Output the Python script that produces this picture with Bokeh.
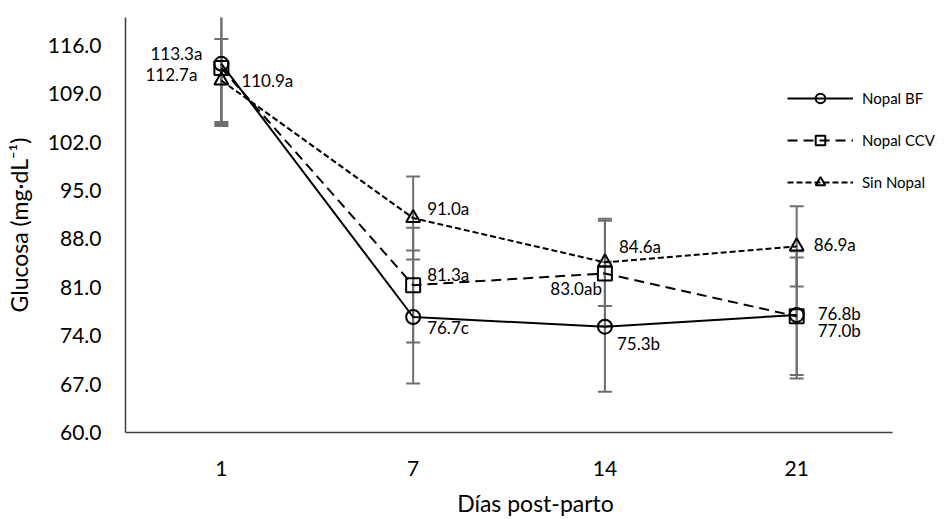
from bokeh.plotting import figure
from bokeh.models import (ColumnDataSource, Range1d, Whisker, TeeHead,
                          Legend, LegendItem, FixedTicker)
from bokeh.core.properties import value
from bokeh.embed import file_html
from bokeh.resources import INLINE

# ---- data ----
days = ["1", "7", "14", "21"]
bf = [113.3, 76.7, 75.3, 77.0]
ccv = [112.7, 81.3, 83.0, 76.8]
sin = [110.9, 91.0, 84.6, 86.9]
bf_err = [9.0, 9.6, 9.4, 9.2]
ccv_err = [8.1, 8.3, 7.6, 8.5]
sin_err = [6.0, 6.0, 6.3, 5.8]
bf_lab = ["113.3a", "76.7c", "75.3b", "77.0b"]
ccv_lab = ["112.7a", "81.3a", "83.0ab", "76.8b"]
sin_lab = ["110.9a", "91.0a", "84.6a", "86.9a"]
y_ticks = [60, 67, 74, 81, 88, 95, 102, 109, 116]
series_names = ["Nopal BF", "Nopal CCV", "Sin Nopal"]

# label offsets (screen px) per point
bf_dx = [-19, 14, 12, 21]
bf_dy = [-10, 11, 17, 16]
bf_align = ["right", "left", "left", "left"]
ccv_dx = [-24, 14, -3, 21]
ccv_dy = [7, -11, 15, -3]
ccv_align = ["right", "left", "right", "left"]
sin_dx = [20, 14, 14, 17]
sin_dy = [0, -10, -16, -2]
sin_align = ["left", "left", "left", "left"]

FONT = "Lato"
ERR = "#6e6e6e"

# category slots: day i sits in the middle of slot i
xpos = [i + 0.5 for i in range(len(days))]
n_cat = len(days)

p = figure(x_range=Range1d(0, 4.276), y_range=Range1d(60, 120),
           width=945, height=519, output_backend="svg", toolbar_location=None,
           min_border_left=125, min_border_right=0, min_border_top=17, min_border_bottom=82)
p.outline_line_color = None
p.xgrid.grid_line_color = None
p.ygrid.grid_line_color = None
p.background_fill_color = "white"
p.border_fill_color = "white"

def src(vals, err, labs, dx, dy, al):
    return ColumnDataSource(dict(x=xpos, y=vals,
                                 lo=[v - e for v, e in zip(vals, err)],
                                 hi=[v + e for v, e in zip(vals, err)],
                                 lab=labs, dx=dx, dy=dy, al=al))

sources = [src(bf, bf_err, bf_lab, bf_dx, bf_dy, bf_align),
           src(ccv, ccv_err, ccv_lab, ccv_dx, ccv_dy, ccv_align),
           src(sin, sin_err, sin_lab, sin_dx, sin_dy, sin_align)]

# error bars
for s in sources:
    w = Whisker(source=s, base="x", upper="hi", lower="lo", line_color=ERR, line_width=2,
                upper_head=TeeHead(size=14, line_color=ERR, line_width=2),
                lower_head=TeeHead(size=14, line_color=ERR, line_width=2))
    p.add_layout(w)

dashes = ["solid", "10 6", "6 3"]
markers = ["circle", "square", "triangle"]
items = []
for s, d, m, name in zip(sources, dashes, markers, series_names):
    lr = p.line("x", "y", source=s, line_color="black", line_width=2, line_dash=d)
    sr = p.scatter("x", "y", source=s, marker=m, size=14, line_color="black",
                   line_width=2, fill_alpha=0)
    p.text("x", "y", text="lab", source=s, x_offset="dx", y_offset="dy",
           text_align="al", text_baseline="middle", text_font=value(FONT),
           text_font_size="17px", text_color="black")
    items.append(LegendItem(label=name, renderers=[lr, sr]))

legend = Legend(items=items, location=(662, 238), orientation="vertical",
                border_line_color=None, background_fill_alpha=0, padding=0, margin=0,
                glyph_width=66, glyph_height=24, label_height=24, spacing=18,
                label_standoff=9, label_text_font=FONT, label_text_font_size="15px",
                label_text_color="black")
p.add_layout(legend, "center")

# axes
for ax in (p.xaxis[0], p.yaxis[0]):
    ax.major_tick_line_color = None
    ax.minor_tick_line_color = None
    ax.axis_line_color = "#404040"
    ax.axis_line_width = 1.5
    ax.major_label_text_font = FONT
    ax.major_label_text_font_size = "21px"
    ax.major_label_text_color = "black"
    ax.axis_label_text_font = FONT
    ax.axis_label_text_font_style = "normal"
    ax.axis_label_text_font_size = "23px"
    ax.axis_label_text_color = "black"

p.xaxis.bounds = (0, n_cat)
p.xaxis.ticker = FixedTicker(ticks=xpos)
p.xaxis.major_label_overrides = {x: d for x, d in zip(xpos, days)}
p.xaxis.major_label_standoff = 22
p.xaxis.axis_label = "Días post-parto"
p.xaxis.axis_label_standoff = 10

p.yaxis.ticker = FixedTicker(ticks=y_ticks)
p.yaxis.major_label_overrides = {t: f"{t:.1f}" for t in y_ticks}
p.yaxis.major_label_standoff = 18
p.yaxis.axis_label = "Glucosa (mg·dL⁻¹)"
p.yaxis.axis_label_standoff = 12

open("out.html", "w").write(file_html(p, INLINE))
